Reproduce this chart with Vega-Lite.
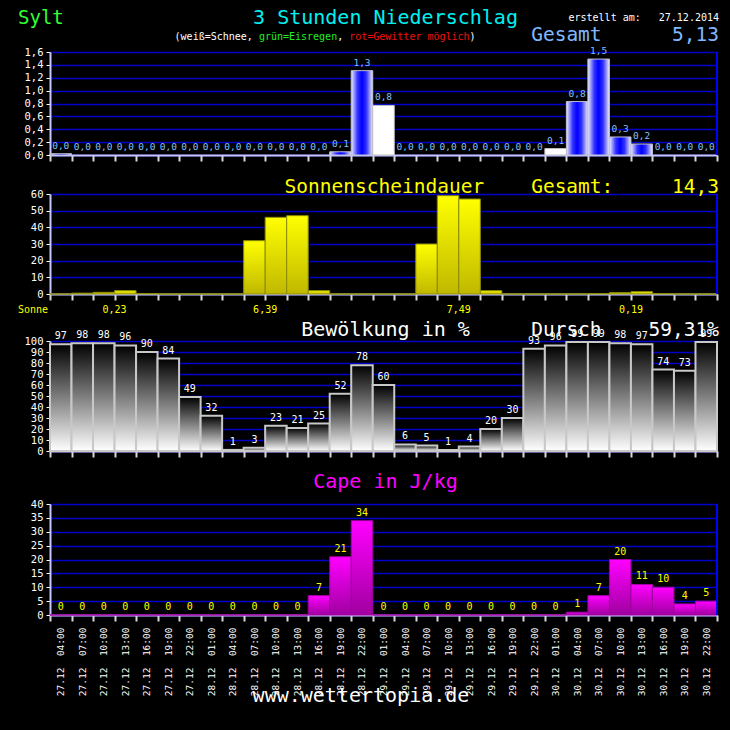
{
"$schema": "https://vega.github.io/schema/vega-lite/v6.json",
"background": "#000000",
"padding": {"left": 18, "top": 0, "right": 11, "bottom": 24},
"spacing": 0,
"bounds": "flush",
"config": {
  "background": "#000000",
  "view": {"stroke": null},
  "font": "DejaVu Sans Mono",
  "locale": {"number": {"decimal": ",", "thousands": ".", "grouping": [3], "currency": ["", " €"]}},
  "axis": {"labelFont": "DejaVu Sans Mono", "labelColor": "#ffffff", "domainColor": "#c8c8ff", "domainWidth": 2, "tickColor": "#d8d8d8"},
  "axisY": {"labelFontSize": 10.5, "tickSize": 4, "labelPadding": 3, "grid": true, "gridColor": "#0000c8", "gridWidth": 1.5, "tickColor": "#ffffff", "labelOverlap": false, "tickCount": 100},
  "axisX": {"grid": false, "tickBand": "extent", "tickSize": 6, "tickWidth": 2, "labels": false, "labelAngle": 270, "labelFontSize": 9.5, "labelPadding": 6, "labelOverlap": false}
},
"datasets": {
  "d": [
    {"t": "27.12 04:00", "p": 0.02, "typ": "r", "s": 0, "c": 97, "k": 0},
    {"t": "27.12 07:00", "p": 0, "typ": "", "s": 0.5, "c": 98, "k": 0},
    {"t": "27.12 10:00", "p": 0, "typ": "", "s": 1, "c": 98, "k": 0},
    {"t": "27.12 13:00", "p": 0, "typ": "", "s": 2, "c": 96, "k": 0},
    {"t": "27.12 16:00", "p": 0, "typ": "", "s": 0.3, "c": 90, "k": 0},
    {"t": "27.12 19:00", "p": 0, "typ": "", "s": 0, "c": 84, "k": 0},
    {"t": "27.12 22:00", "p": 0, "typ": "", "s": 0, "c": 49, "k": 0},
    {"t": "28.12 01:00", "p": 0, "typ": "", "s": 0, "c": 32, "k": 0},
    {"t": "28.12 04:00", "p": 0, "typ": "", "s": 0, "c": 1, "k": 0},
    {"t": "28.12 07:00", "p": 0, "typ": "", "s": 32, "c": 3, "k": 0},
    {"t": "28.12 10:00", "p": 0, "typ": "", "s": 46, "c": 23, "k": 0},
    {"t": "28.12 13:00", "p": 0, "typ": "", "s": 47, "c": 21, "k": 0},
    {"t": "28.12 16:00", "p": 0, "typ": "", "s": 2, "c": 25, "k": 7},
    {"t": "28.12 19:00", "p": 0.05, "typ": "r", "s": 0, "c": 52, "k": 21},
    {"t": "28.12 22:00", "p": 1.31, "typ": "r", "s": 0, "c": 78, "k": 34},
    {"t": "29.12 01:00", "p": 0.77, "typ": "s", "s": 0, "c": 60, "k": 0},
    {"t": "29.12 04:00", "p": 0, "typ": "", "s": 0, "c": 6, "k": 0},
    {"t": "29.12 07:00", "p": 0, "typ": "", "s": 30, "c": 5, "k": 0},
    {"t": "29.12 10:00", "p": 0, "typ": "", "s": 59, "c": 1, "k": 0},
    {"t": "29.12 13:00", "p": 0, "typ": "", "s": 57, "c": 4, "k": 0},
    {"t": "29.12 16:00", "p": 0, "typ": "", "s": 2, "c": 20, "k": 0},
    {"t": "29.12 19:00", "p": 0, "typ": "", "s": 0, "c": 30, "k": 0},
    {"t": "29.12 22:00", "p": 0, "typ": "", "s": 0, "c": 93, "k": 0},
    {"t": "30.12 01:00", "p": 0.1, "typ": "s", "s": 0, "c": 96, "k": 0},
    {"t": "30.12 04:00", "p": 0.83, "typ": "r", "s": 0, "c": 99, "k": 1},
    {"t": "30.12 07:00", "p": 1.49, "typ": "r", "s": 0.3, "c": 99, "k": 7},
    {"t": "30.12 10:00", "p": 0.28, "typ": "r", "s": 0.8, "c": 98, "k": 20},
    {"t": "30.12 13:00", "p": 0.17, "typ": "r", "s": 1.4, "c": 97, "k": 11},
    {"t": "30.12 16:00", "p": 0, "typ": "", "s": 0.3, "c": 74, "k": 10},
    {"t": "30.12 19:00", "p": 0, "typ": "", "s": 0, "c": 73, "k": 4},
    {"t": "30.12 22:00", "p": 0, "typ": "", "s": 0, "c": 99, "k": 5}
  ],
  "sun": [
    {"t": "27.12 13:00", "v": "0,23"},
    {"t": "28.12 10:00", "v": "6,39"},
    {"t": "29.12 13:00", "v": "7,49"},
    {"t": "30.12 13:00", "v": "0,19"}
  ]
},
"vconcat": [
  {
    "width": 667, "height": 155,
    "data": {"name": "d"},
    "layer": [
      {
        "transform": [{"filter": "datum.typ == 'r'"}],
        "mark": {"type": "bar", "stroke": "#c0c0d0", "strokeWidth": 1,
          "fill": {"gradient": "linear", "x1": 0, "y1": 0, "x2": 1, "y2": 0, "stops": [{"offset": 0, "color": "#eeeeff"}, {"offset": 0.3, "color": "#3030ff"}, {"offset": 0.5, "color": "#0000ff"}, {"offset": 0.7, "color": "#3030ff"}, {"offset": 1, "color": "#eeeeff"}]}},
        "encoding": {
          "x": {"field": "t", "type": "ordinal", "scale": {"type": "band", "paddingInner": 0, "paddingOuter": 0}, "axis": {"title": null, "labels": false}},
          "y": {"field": "p", "type": "quantitative", "scale": {"domain": [0, 1.6], "range": [155, 52], "nice": false}, "axis": {"title": null, "values": [0, 0.2, 0.4, 0.6, 0.8, 1, 1.2, 1.4, 1.6], "format": ".1f", "tickCount": 100}}
        }
      },
      {
        "transform": [{"filter": "datum.typ == 's'"}],
        "mark": {"type": "bar", "fill": "#ffffff", "stroke": "#c0c0c0", "strokeWidth": 1},
        "encoding": {
          "x": {"field": "t", "type": "ordinal", "scale": {"type": "band", "paddingInner": 0, "paddingOuter": 0}},
          "y": {"field": "p", "type": "quantitative", "scale": {"domain": [0, 1.6], "range": [155, 52], "nice": false}}
        }
      },
      {
        "mark": {"type": "text", "color": "#80c0ff", "fontSize": 9.5, "baseline": "middle", "dy": -8},
        "encoding": {
          "x": {"field": "t", "type": "ordinal", "scale": {"type": "band", "paddingInner": 0, "paddingOuter": 0}},
          "y": {"field": "p", "type": "quantitative", "scale": {"domain": [0, 1.6], "range": [155, 52], "nice": false}},
          "text": {"field": "p", "type": "quantitative", "format": ".1f"}
        }
      },
      {
        "data": {"values": [{}]},
        "mark": {"type": "rule", "color": "#0000ff", "strokeWidth": 2},
        "encoding": {
          "x": {"datum": "30.12 22:00", "type": "ordinal", "bandPosition": 1, "scale": {"type": "band", "paddingInner": 0, "paddingOuter": 0}},
          "y": {"datum": 0, "type": "quantitative", "scale": {"domain": [0, 1.6], "range": [155, 52], "nice": false}},
          "y2": {"datum": 1.6}
        }
      },
      {
        "data": {"values": [{}]},
        "mark": {"type": "text", "text": "Sylt", "fontSize": 19, "color": "#33ff33", "align": "left", "baseline": "alphabetic", "dx": -32},
        "encoding": {
          "x": {"datum": "27.12 04:00", "type": "ordinal", "bandPosition": 0, "scale": {"type": "band", "paddingInner": 0, "paddingOuter": 0}},
          "y": {"datum": 2.04, "type": "quantitative", "scale": {"domain": [0, 1.6], "range": [155, 52], "nice": false}}
        }
      },
      {
        "data": {"values": [{}]},
        "mark": {"type": "text", "text": "3 Stunden Niederschlag", "fontSize": 20, "color": "#00f0f0", "align": "center", "baseline": "alphabetic", "dx": 2},
        "encoding": {
          "x": {"datum": "29.12 01:00", "type": "ordinal", "bandPosition": 0.5, "scale": {"type": "band", "paddingInner": 0, "paddingOuter": 0}},
          "y": {"datum": 2.04, "type": "quantitative", "scale": {"domain": [0, 1.6], "range": [155, 52], "nice": false}}
        }
      },
      {
        "data": {"values": [{}]},
        "mark": {"type": "text", "text": "erstellt am:\u00a0\u00a0\u00a027.12.2014", "fontSize": 10, "color": "#ffffff", "align": "right", "baseline": "alphabetic", "dx": 2},
        "encoding": {
          "x": {"datum": "30.12 22:00", "type": "ordinal", "bandPosition": 1, "scale": {"type": "band", "paddingInner": 0, "paddingOuter": 0}},
          "y": {"datum": 2.074, "type": "quantitative", "scale": {"domain": [0, 1.6], "range": [155, 52], "nice": false}}
        }
      },
      {
        "data": {"values": [{}]},
        "mark": {"type": "text", "text": "(weiß=Schnee,", "fontSize": 10, "color": "#ffffff", "align": "left", "baseline": "alphabetic", "dx": 17},
        "encoding": {
          "x": {"datum": "27.12 19:00", "type": "ordinal", "bandPosition": 0, "scale": {"type": "band", "paddingInner": 0, "paddingOuter": 0}},
          "y": {"datum": 1.782, "type": "quantitative", "scale": {"domain": [0, 1.6], "range": [155, 52], "nice": false}}
        }
      },
      {
        "data": {"values": [{}]},
        "mark": {"type": "text", "text": "grün=Eisregen", "fontSize": 10, "color": "#22ee22", "align": "left", "baseline": "alphabetic", "dx": 101.3},
        "encoding": {
          "x": {"datum": "27.12 19:00", "type": "ordinal", "bandPosition": 0, "scale": {"type": "band", "paddingInner": 0, "paddingOuter": 0}},
          "y": {"datum": 1.782, "type": "quantitative", "scale": {"domain": [0, 1.6], "range": [155, 52], "nice": false}}
        }
      },
      {
        "data": {"values": [{}]},
        "mark": {"type": "text", "text": ",", "fontSize": 10, "color": "#ffffff", "align": "left", "baseline": "alphabetic", "dx": 179.6},
        "encoding": {
          "x": {"datum": "27.12 19:00", "type": "ordinal", "bandPosition": 0, "scale": {"type": "band", "paddingInner": 0, "paddingOuter": 0}},
          "y": {"datum": 1.782, "type": "quantitative", "scale": {"domain": [0, 1.6], "range": [155, 52], "nice": false}}
        }
      },
      {
        "data": {"values": [{}]},
        "mark": {"type": "text", "text": "rot=Gewitter\u00a0möglich", "fontSize": 10, "color": "#ee1111", "align": "left", "baseline": "alphabetic", "dx": 191.6},
        "encoding": {
          "x": {"datum": "27.12 19:00", "type": "ordinal", "bandPosition": 0, "scale": {"type": "band", "paddingInner": 0, "paddingOuter": 0}},
          "y": {"datum": 1.782, "type": "quantitative", "scale": {"domain": [0, 1.6], "range": [155, 52], "nice": false}}
        }
      },
      {
        "data": {"values": [{}]},
        "mark": {"type": "text", "text": ")", "fontSize": 10, "color": "#ffffff", "align": "left", "baseline": "alphabetic", "dx": 312},
        "encoding": {
          "x": {"datum": "27.12 19:00", "type": "ordinal", "bandPosition": 0, "scale": {"type": "band", "paddingInner": 0, "paddingOuter": 0}},
          "y": {"datum": 1.782, "type": "quantitative", "scale": {"domain": [0, 1.6], "range": [155, 52], "nice": false}}
        }
      },
      {
        "data": {"values": [{}]},
        "mark": {"type": "text", "text": "Gesamt\u00a0\u00a0\u00a0\u00a0\u00a0\u00a05,13", "fontSize": 19.5, "color": "#80b8ff", "align": "right", "baseline": "alphabetic", "dx": 2},
        "encoding": {
          "x": {"datum": "30.12 22:00", "type": "ordinal", "bandPosition": 1, "scale": {"type": "band", "paddingInner": 0, "paddingOuter": 0}},
          "y": {"datum": 1.776, "type": "quantitative", "scale": {"domain": [0, 1.6], "range": [155, 52], "nice": false}}
        }
      }
    ]
  },
  {
    "width": 667, "height": 139,
    "data": {"name": "d"},
    "layer": [
      {
        "mark": {"type": "bar", "stroke": "#8c8c00", "strokeWidth": 1,
          "fill": {"gradient": "linear", "x1": 0, "y1": 0, "x2": 0, "y2": 1, "stops": [{"offset": 0, "color": "#ffff00"}, {"offset": 1, "color": "#c0b800"}]}},
        "encoding": {
          "x": {"field": "t", "type": "ordinal", "scale": {"type": "band", "paddingInner": 0, "paddingOuter": 0}, "axis": {"title": null, "labels": false}},
          "y": {"field": "s", "type": "quantitative", "scale": {"domain": [0, 60], "range": [139, 39], "nice": false}, "axis": {"title": null, "values": [0, 10, 20, 30, 40, 50, 60], "format": "d", "tickCount": 100}}
        }
      },
      {
        "data": {"values": [{}]},
        "mark": {"type": "rule", "color": "#0000ff", "strokeWidth": 2},
        "encoding": {
          "x": {"datum": "30.12 22:00", "type": "ordinal", "bandPosition": 1, "scale": {"type": "band", "paddingInner": 0, "paddingOuter": 0}},
          "y": {"datum": 0, "type": "quantitative", "scale": {"domain": [0, 60], "range": [139, 39], "nice": false}},
          "y2": {"datum": 60}
        }
      },
      {
        "data": {"name": "sun"},
        "mark": {"type": "text", "color": "#ffff00", "fontSize": 10, "baseline": "middle"},
        "encoding": {
          "x": {"field": "t", "type": "ordinal", "bandPosition": 0, "scale": {"type": "band", "paddingInner": 0, "paddingOuter": 0}},
          "y": {"datum": -9.6, "type": "quantitative", "scale": {"domain": [0, 60], "range": [139, 39], "nice": false}},
          "text": {"field": "v", "type": "nominal"}
        }
      },
      {
        "data": {"values": [{}]},
        "mark": {"type": "text", "text": "Sonne", "fontSize": 10, "color": "#ffff00", "align": "left", "baseline": "middle", "dx": -32},
        "encoding": {
          "x": {"datum": "27.12 04:00", "type": "ordinal", "bandPosition": 0, "scale": {"type": "band", "paddingInner": 0, "paddingOuter": 0}},
          "y": {"datum": -9.6, "type": "quantitative", "scale": {"domain": [0, 60], "range": [139, 39], "nice": false}}
        }
      },
      {
        "data": {"values": [{}]},
        "mark": {"type": "text", "text": "Sonnenscheindauer\u00a0\u00a0\u00a0\u00a0Gesamt:\u00a0\u00a0\u00a0\u00a0\u00a014,3", "fontSize": 19.5, "color": "#ffff00", "align": "right", "baseline": "alphabetic", "dx": 2},
        "encoding": {
          "x": {"datum": "30.12 22:00", "type": "ordinal", "bandPosition": 1, "scale": {"type": "band", "paddingInner": 0, "paddingOuter": 0}},
          "y": {"datum": 60.78, "type": "quantitative", "scale": {"domain": [0, 60], "range": [139, 39], "nice": false}}
        }
      }
    ]
  },
  {
    "width": 667, "height": 157,
    "data": {"name": "d"},
    "layer": [
      {
        "mark": {"type": "bar", "stroke": "#c8c8c8", "strokeWidth": 2,
          "fill": {"gradient": "linear", "x1": 0, "y1": 0, "x2": 0, "y2": 1, "stops": [{"offset": 0, "color": "#000000"}, {"offset": 1, "color": "#ffffff"}]}},
        "encoding": {
          "x": {"field": "t", "type": "ordinal", "scale": {"type": "band", "paddingInner": 0, "paddingOuter": 0}, "axis": {"title": null, "labels": false}},
          "y": {"field": "c", "type": "quantitative", "scale": {"domain": [0, 100], "range": [157, 47], "nice": false}, "axis": {"title": null, "values": [0, 10, 20, 30, 40, 50, 60, 70, 80, 90, 100], "format": "d", "tickCount": 100}}
        }
      },
      {
        "mark": {"type": "text", "color": "#ffffff", "fontSize": 10, "baseline": "middle", "dy": -8},
        "encoding": {
          "x": {"field": "t", "type": "ordinal", "scale": {"type": "band", "paddingInner": 0, "paddingOuter": 0}},
          "y": {"field": "c", "type": "quantitative", "scale": {"domain": [0, 100], "range": [157, 47], "nice": false}},
          "text": {"field": "c", "type": "quantitative"}
        }
      },
      {
        "data": {"values": [{}]},
        "mark": {"type": "text", "text": "Bewölkung in %", "fontSize": 20, "color": "#ffffff", "align": "center", "baseline": "alphabetic", "dx": 2},
        "encoding": {
          "x": {"datum": "29.12 01:00", "type": "ordinal", "bandPosition": 0.5, "scale": {"type": "band", "paddingInner": 0, "paddingOuter": 0}},
          "y": {"datum": 104.36, "type": "quantitative", "scale": {"domain": [0, 100], "range": [157, 47], "nice": false}}
        }
      },
      {
        "data": {"values": [{}]},
        "mark": {"type": "text", "text": "Dursch\u00a0\u00a0\u00a0\u00a059,31%", "fontSize": 19.5, "color": "#ffffff", "align": "right", "baseline": "alphabetic", "dx": 2},
        "encoding": {
          "x": {"datum": "30.12 22:00", "type": "ordinal", "bandPosition": 1, "scale": {"type": "band", "paddingInner": 0, "paddingOuter": 0}},
          "y": {"datum": 104.36, "type": "quantitative", "scale": {"domain": [0, 100], "range": [157, 47], "nice": false}}
        }
      }
    ]
  },
  {
    "width": 667, "height": 164,
    "data": {"name": "d"},
    "layer": [
      {
        "mark": {"type": "bar", "stroke": "#a000a0", "strokeWidth": 1,
          "fill": {"gradient": "linear", "x1": 0, "y1": 0, "x2": 0, "y2": 1, "stops": [{"offset": 0, "color": "#ff00ff"}, {"offset": 1, "color": "#a000a0"}]}},
        "encoding": {
          "x": {"field": "t", "type": "ordinal", "scale": {"type": "band", "paddingInner": 0, "paddingOuter": 0}, "axis": {"title": null, "labels": true, "labelExpr": "isValid(datum.value) ? replace(datum.value, ' ', '\u00a0\u00a0') : ''"}},
          "y": {"field": "k", "type": "quantitative", "scale": {"domain": [0, 40], "range": [164, 53], "nice": false}, "axis": {"title": null, "values": [0, 5, 10, 15, 20, 25, 30, 35, 40], "format": "d", "tickCount": 100}}
        }
      },
      {
        "mark": {"type": "text", "color": "#ffff00", "fontSize": 10, "baseline": "middle", "dy": -8},
        "encoding": {
          "x": {"field": "t", "type": "ordinal", "scale": {"type": "band", "paddingInner": 0, "paddingOuter": 0}},
          "y": {"field": "k", "type": "quantitative", "scale": {"domain": [0, 40], "range": [164, 53], "nice": false}},
          "text": {"field": "k", "type": "quantitative"}
        }
      },
      {
        "data": {"values": [{}]},
        "mark": {"type": "rule", "color": "#0000ff", "strokeWidth": 2},
        "encoding": {
          "x": {"datum": "30.12 22:00", "type": "ordinal", "bandPosition": 1, "scale": {"type": "band", "paddingInner": 0, "paddingOuter": 0}},
          "y": {"datum": 0, "type": "quantitative", "scale": {"domain": [0, 40], "range": [164, 53], "nice": false}},
          "y2": {"datum": 40}
        }
      },
      {
        "data": {"values": [{}]},
        "mark": {"type": "text", "text": "Cape in J/kg", "fontSize": 20, "color": "#ff00ff", "align": "center", "baseline": "alphabetic", "dx": 2},
        "encoding": {
          "x": {"datum": "29.12 01:00", "type": "ordinal", "bandPosition": 0.5, "scale": {"type": "band", "paddingInner": 0, "paddingOuter": 0}},
          "y": {"datum": 45.59, "type": "quantitative", "scale": {"domain": [0, 40], "range": [164, 53], "nice": false}}
        }
      },
      {
        "data": {"values": [{}]},
        "mark": {"type": "text", "text": "www.wettertopia.de", "fontSize": 20, "color": "#ffffff", "align": "center", "baseline": "alphabetic", "dx": -1},
        "encoding": {
          "x": {"datum": "28.12 22:00", "type": "ordinal", "bandPosition": 0.5, "scale": {"type": "band", "paddingInner": 0, "paddingOuter": 0}},
          "y": {"datum": -31.35, "type": "quantitative", "scale": {"domain": [0, 40], "range": [164, 53], "nice": false}}
        }
      }
    ]
  }
]
}
